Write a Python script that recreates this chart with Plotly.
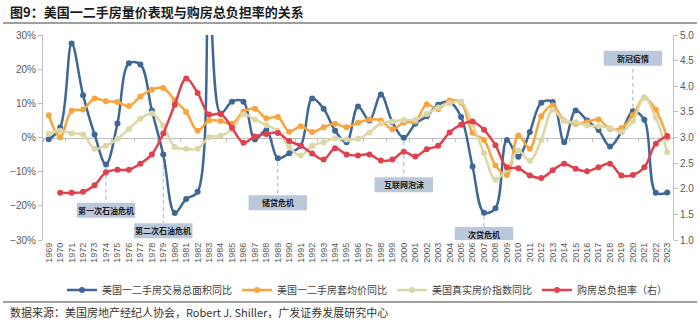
import plotly.graph_objects as go

years = [str(y) for y in range(1969, 2024)]

area_yoy = [-0.5, 2.9, 27.5, 12.4, 0.9, -7.9, 4.1, 21.7, 21.4, 7.9, -5.0, -22.1, -18.0, -15.9, 42.0,
            7.0, 10.5, 10.5, -0.6, 2.2, -6.1, -4.6, -2.4, 11.4, 8.4, 2.0, -1.4, 9.1, 5.0, 12.6,
            4.5, -0.1, 4.0, 6.2, 9.6, 10.4, 6.0, -8.5, -22.0, -20.7, -0.7, -5.6, 1.6, 10.2, 10.4,
            -1.4, 7.9, 5.0, 2.2, -2.6, 1.6, 7.7, 5.2, -16.2, -16.1]

price_yoy = [6.5, 0.1, 7.8, 8.2, 11.4, 10.6, 10.4, 9.2, 12.0, 14.0, 14.5, 10.9, 7.5, 2.0, 5.0,
             4.8, 4.0, 7.6, 8.4, 5.6, 6.0, 1.7, 3.3, 1.6, 3.0, 4.0, 3.0, 4.3, 5.3, 5.0,
             2.4, 4.4, 4.7, 9.7, 8.3, 10.8, 10.2, 1.4, -0.7, -8.2, -11.0, 0.6, -3.3, 6.2, 9.4,
             5.0, 4.0, 4.5, 5.3, 2.5, 2.8, 6.5, 11.7, 8.1, -0.1]

real_index_yoy = [1.1, 2.0, 1.2, 0.9, -3.3, -2.4, -0.4, 2.5, 5.5, 7.0, 3.5, -2.8, -3.3, -3.3, 0.1,
                  0.5, 2.3, 6.8, 5.3, 3.6, 2.0, -2.8, -5.3, -2.4, -1.4, -0.2, -0.6, -0.4, 1.5, 4.1,
                  4.7, 5.1, 5.2, 6.9, 8.8, 10.0, 10.5, 3.8, -4.6, -12.4, -9.2, -3.8, -6.8, -0.7, 8.1,
                  4.8, 4.5, 3.5, 3.3, 2.8, 1.6, 4.8, 11.7, 5.8, -4.3]

burden = [None, 1.92, 1.92, 1.94, 2.07, 2.32, 2.37, 2.37, 2.49, 2.67, 3.08, 3.64, 4.15, 3.87, 3.45,
          3.46, 3.19, 2.90, 3.02, 3.07, 3.09, 2.93, 2.84, 2.69, 2.57, 2.79, 2.67, 2.65, 2.67, 2.55,
          2.57, 2.72, 2.63, 2.77, 2.84, 3.10, 3.25, 3.31, 3.15, 2.85, 2.42, 2.40, 2.26, 2.21, 2.36,
          2.49, 2.39, 2.34, 2.42, 2.49, 2.26, 2.27, 2.42, 2.88, 3.03]

series_names = ["美国一二手房交易总面积同比", "美国一二手房套均价同比", "美国真实房价指数同比", "购房总负担率（右）"]
colors = ["#3F6796", "#F9A53E", "#DCD7A6", "#E0414F"]

# labelled burden points: (year, xshift, yshift)
burden_labels = [("1979", -10, 8), ("1981", -2, 12), ("1989", 0, 12),
                 ("2004", -12, 7), ("2006", 2, 12), ("2023", 0, 11)]

# crisis annotations: (text, year, box centre in %)
events = [("第一次石油危机", "1974", -21.3), ("第二次石油危机", "1979", -27.3),
          ("储贷危机", "1989", -19.1), ("互联网泡沫", "2000", -13.8),
          ("次贷危机", "2007", -28.4), ("新冠疫情", "2020", 23.2)]

Y_MIN, Y_MAX = -30, 30
N = len(years)
CJK = "Noto Sans CJK SC"
NUM = "Liberation Sans"

fig = go.Figure()
for name, vals, col in zip(series_names[:3], [area_yoy, price_yoy, real_index_yoy], colors[:3]):
    fig.add_trace(go.Scatter(x=years, y=vals, name=name, mode="lines+markers",
                             line=dict(color=col, width=2.5, shape="spline", smoothing=1.0),
                             marker=dict(color=col, size=6), yaxis="y", xaxis="x"))
fig.add_trace(go.Scatter(x=years, y=burden, name=series_names[3], mode="lines+markers",
                         line=dict(color=colors[3], width=2.5, shape="spline", smoothing=1.0),
                         marker=dict(color=colors[3], size=6), yaxis="y2", xaxis="x"))
# invisible trace to carry the zero-line category axis
fig.add_trace(go.Scatter(x=years, y=[0] * N, xaxis="x2", yaxis="y", mode="lines",
                         line=dict(width=0), opacity=0, showlegend=False, hoverinfo="skip"))

for yr, xs, ys in burden_labels:
    v = burden[years.index(yr)]
    fig.add_annotation(x=yr, y=v, xref="x", yref="y2", text=f"{v:.1f}", showarrow=False,
                       xshift=xs, yshift=ys, font=dict(family=NUM, size=11, color=colors[3]))

half_w = 2.55   # categories
half_h = 2.2    # percent
for txt, yr, by in events:
    i = years.index(yr)
    if by < 0:
        y0, y1 = area_yoy[i] - 1.0, by + half_h
    else:
        y0, y1 = area_yoy[i] + 1.0, by - half_h
    fig.add_shape(type="line", xref="x", yref="y", x0=i, x1=i, y0=y0, y1=y1,
                  line=dict(color="#9FB4CF", width=1, dash="4px,3px"), layer="below")
    fig.add_shape(type="rect", xref="x", yref="y", x0=i - half_w, x1=i + half_w,
                  y0=by - half_h, y1=by + half_h, fillcolor="#B9C8DA", line=dict(width=0), layer="below")
    fig.add_annotation(x=(i + 0.5) / N, y=(by - Y_MIN) / (Y_MAX - Y_MIN), xref="paper", yref="paper",
                       text=f"<b>{txt}</b>", showarrow=False, xanchor="center", yanchor="middle",
                       font=dict(family=CJK, size=8, color="#1a1a1a"))

# title / source
fig.add_annotation(xref="paper", yref="paper", x=(8 - 43) / 630, y=(240 - 12) / 205,
                   xanchor="left", yanchor="middle", showarrow=False,
                   text="<b>图9：美国一二手房量价表现与购房总负担率的关系</b>",
                   font=dict(family=CJK, size=13, color="#1a1a1a"))
fig.add_annotation(xref="paper", yref="paper", x=(8 - 43) / 630, y=(240 - 312) / 205,
                   xanchor="left", yanchor="middle", showarrow=False,
                   text="数据来源：美国房地产经纪人协会，Robert J. Shiller，广发证券发展研究中心",
                   font=dict(family=CJK, size=11, color="#333333"))
for py in (23, 302):
    fig.add_shape(type="line", xref="paper", yref="paper", x0=(3 - 43) / 630, x1=(697 - 43) / 630,
                  y0=(240 - py) / 205, y1=(240 - py) / 205, line=dict(color="#7F7F7F", width=1.5))

fig.update_layout(
    width=700, height=324, margin=dict(l=43, r=27, t=35, b=84),
    paper_bgcolor="white", plot_bgcolor="white",
    font=dict(family=NUM + ", " + CJK, color="#595959"),
    showlegend=True,
    legend=dict(orientation="h", x=(62 - 43) / 630, y=(240 - 290) / 205, xanchor="left", yanchor="middle",
                font=dict(family=CJK, size=10, color="#404040"), itemwidth=30, bgcolor="rgba(0,0,0,0)"),
    xaxis=dict(type="category", categoryorder="array", categoryarray=years, range=[-0.5, N - 0.5],
               showline=False, ticks="", tickangle=-90, tickfont=dict(family=NUM, size=9, color="#595959"),
               showgrid=False, zeroline=False, automargin=False),
    xaxis2=dict(type="category", categoryorder="array", categoryarray=years, range=[-0.5, N - 0.5],
                overlaying="x", anchor="free", position=0.5, side="bottom", showline=True, linecolor="#BFBFBF",
                linewidth=1, ticks="outside", ticklen=3, tickcolor="#BFBFBF", tickson="boundaries",
                showticklabels=False, showgrid=False, zeroline=False, layer="below traces"),
    yaxis=dict(range=[Y_MIN, Y_MAX], dtick=10, ticksuffix="%", showline=True, linecolor="#BFBFBF", ticks="outside",
               ticklen=4, tickcolor="#BFBFBF", showgrid=False, zeroline=False,
               tickfont=dict(family=NUM, size=10, color="#595959"), automargin=False),
    yaxis2=dict(range=[1, 5], dtick=0.5, tickformat=".1f", overlaying="y", side="right", anchor="x",
                showline=True, linecolor="#BFBFBF", ticks="outside", ticklen=4, tickcolor="#BFBFBF",
                showgrid=False, zeroline=False, tickfont=dict(family=NUM, size=10, color="#595959"),
                automargin=False),
)

fig.write_html("out.html")
